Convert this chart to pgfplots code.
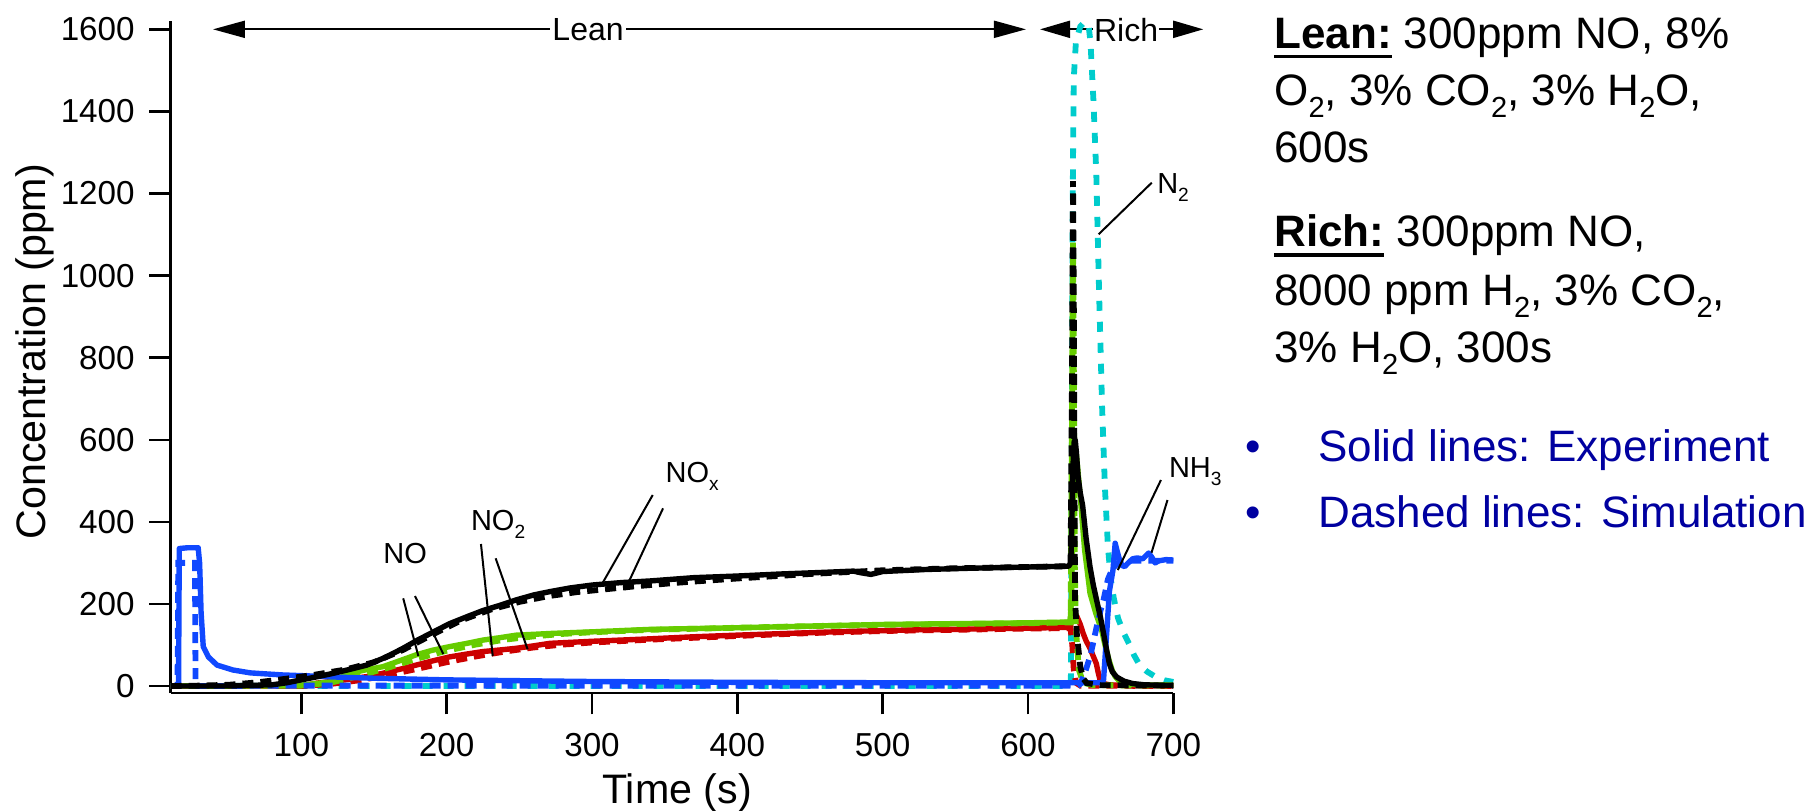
\documentclass[border=0pt]{standalone}
\usepackage{fontspec}
\setmainfont{Liberation Sans}
\usepackage{graphicx}
\usepackage{pgfplots}
\pgfplotsset{compat=1.18}
\usetikzlibrary{arrows.meta}

\definecolor{cNOx}{RGB}{0,0,0}
\definecolor{cNO}{RGB}{102,204,0}
\definecolor{cNOtwo}{RGB}{204,0,0}
\definecolor{cNH}{RGB}{16,72,255}
\definecolor{cN}{RGB}{0,204,204}
\definecolor{navy}{RGB}{0,0,160}

% chemical subscript in the current font
\newcommand{\sbs}[1]{\raisebox{-0.28em}{\scalebox{0.66}{#1}}}
% bold heading with a heavy underline
\newcommand{\ulb}[1]{\sbox0{\textbf{#1}}\rlap{\rule[-4.8pt]{\wd0}{1.7pt}}\usebox0}

\pgfplotsset{
  exp/.style={solid, line width=2.7pt, line join=round},
  sim/.style={line width=2.9pt, dash pattern=on 5.5pt off 3.5pt},
}

\begin{document}
\begin{tikzpicture}
\useasboundingbox (-85.35pt,-58.5pt) rectangle (824.65pt,346.5pt);
\begin{axis}[
  at={(0,0)}, anchor=south west,
  scale only axis, width=501.3pt, height=336.15pt,
  xmin=10.1, xmax=700, ymin=-17, ymax=1621,
  axis x line*=bottom, axis y line*=left,
  axis line style={line width=1.2pt},
  every tick/.style={black, line width=1.2pt},
  tick align=outside, major tick length=10.7pt,
  xtick={100,200,...,700}, ytick={0,200,...,1600},
  /pgf/number format/assume math mode=true,
  /pgf/number format/1000 sep={},
  tick label style={font=\fontsize{16.6pt}{20pt}\selectfont},
  xticklabel style={yshift=-5.8pt},
  yticklabel style={xshift=-3.8pt},
  xlabel={Time (s)}, ylabel={Concentration (ppm)},
  label style={font=\fontsize{20.6pt}{25pt}\selectfont},
  xlabel style={at={(axis description cs:0.505,-0.1636)}, anchor=base},
  ylabel style={at={(axis description cs:-0.1245,0.5077)}, anchor=base},
  clip=false,
]

% phase arrows
\draw[line width=1pt, {Triangle[length=16pt,width=8.5pt]}-{Triangle[length=16pt,width=8.5pt]}]
  (axis cs:39.2,1600) -- (axis cs:598.6,1600);
\node[fill=white, inner sep=1pt, font=\fontsize{16pt}{19pt}\selectfont] at (axis cs:297.3,1600) {Lean};
\draw[line width=1pt, -{Triangle[length=15pt,width=8.5pt]}] (axis cs:644.9,1600) -- (axis cs:608.3,1600);
\draw[line width=1pt, -{Triangle[length=15pt,width=8.5pt]}] (axis cs:690.2,1600) -- (axis cs:720.6,1600);
\node[inner sep=0pt, font=\fontsize{16pt}{19pt}\selectfont] at (axis cs:667.5,1598) {Rich};

% N2 (simulation)
\addplot[sim, cN, dash pattern=on 5pt off 5.5pt] coordinates {
(10,0) (629.5,0) (630,400) (630.8,1200) (631.5,1480) (633,1570) (636,1607) (639,1618)
(641.6,1612) (643,1570) (645,1430) (647,1250) (649,950) (651,680) (653,480) (655,340)
(657,260) (659,215) (662,165) (666,128) (670,100) (673,75) (677,50) (682,35) (688,22)
(694,14) (700,10)};

% NO2
\addplot[sim, cNOtwo] coordinates {
(10,0) (100,0) (120,5) (140,14) (160,27) (180,42) (200,58) (220,72) (240,84) (260,94)
(280,101) (300,106) (340,113) (400,122) (450,129) (500,134) (550,137) (600,140)
(629.3,141) (630.5,100) (631.5,40) (633,8) (636,1) (700,0)};
\addplot[exp, cNOtwo] coordinates {
(10,0) (100,0) (110.5,7) (130,15) (145,23) (156,31) (168,41) (179,51) (190,61) (202,71)
(214,78) (225,84) (237,88) (248,92) (260,98) (271,104) (300,109) (340,115) (370,120)
(400,124) (425,127) (450,130) (475,133) (500,135) (525,137) (550,138) (575,140)
(600,141) (629,143) (630,160) (631.5,178) (633.6,170)
(636,150) (638,128) (640,110) (642.7,92) (645,72) (647,55) (648.5,30) (649.6,15)
(652,6) (656,3) (670,1) (700,1)};

% NO
\addplot[sim, cNO] coordinates {
(10,0) (100,1) (120,8) (140,25) (160,45) (180,67) (200,86) (220,101) (240,113) (260,121)
(280,127) (300,131) (340,137) (400,142) (450,146) (500,149) (550,151) (600,153)
(629.3,155) (630.2,600) (631,1080) (631.6,750) (632.2,300) (633,140) (635,40) (638,8)
(645,2) (700,1)};
\addplot[exp, cNO] coordinates {
(10,0) (100,2) (120,10) (133.5,31) (145,40) (156,47) (168,62) (179,76) (190,87) (202,96)
(214,104) (225,112) (237,118) (248,124) (260,126) (271,128) (300,132) (340,138)
(370,140) (400,142) (425,144) (450,146) (475,148) (500,150) (525,151) (550,152)
(575,153) (600,154) (629,156) (630,220) (631,420)
(632,560) (633,575) (634.5,520) (636,460) (639,331) (642.7,226) (646.7,177)
(650.7,136) (653,100) (655.8,63) (658,38) (660,23) (663,12) (666.5,7) (675,3) (700,2)};

% NH3
\addplot[sim, cNH] coordinates {
(10,0) (14.8,0) (15.3,300) (26.8,300) (27.2,0) (100,1) (629,1) (634,0) (636,5) (639,30)
(643,75) (647,140) (650,185) (652,210) (655,260) (658,285) (662,300) (670,305) (700,305)};
\addplot[exp, cNH] coordinates {
(15.5,5) (16,335) (22,337) (29,337) (30,300) (31,180) (32.5,96) (36,71) (42,51) (53,39)
(65,32) (87,27) (110,24) (130,21) (150,19) (200,15) (250,13) (300,11) (400,9) (500,8)
(600,8) (651,8) (652,15) (654,120) (656,230) (658.5,283) (660,348) (662,320) (664,295)
(666.5,291) (669,300) (672,310) (675,312) (679,310) (683,324) (685,315) (687.5,300)
(690,305) (695,308) (700,307)};

% NOx
\addplot[exp, cNOx] coordinates {
(10,0) (50,0) (80,3) (90,8) (100,15) (110,22) (122,31) (135,42) (145,51) (158,70)
(170,92) (180,112) (191,132) (202,152) (214,169) (225,184) (237,197) (248,210)
(260,222) (271,230) (285,239) (300,246) (320,252) (340,256) (370,264) (400,268)
(430,273) (460,277) (480,280) (485,276) (492,272) (500,279) (530,284) (560,287)
(600,290) (628,292) (629.5,300) (630.3,420) (631,540) (631.8,595) (632.5,600)
(633.3,570) (634.5,510) (636,470) (637.6,440) (640,360) (642.7,290) (645,245)
(647.5,205) (650,165) (652,128) (654,90) (656,55) (658,35) (661,22) (666,12) (672,6)
(680,3) (690,2) (700,2)};
\addplot[sim, cNOx] coordinates {
(10,0) (30,1) (50,3) (70,9) (90,18) (110,28) (130,40) (150,58) (170,88) (190,125)
(210,160) (230,186) (250,205) (270,219) (290,229) (310,236) (330,243) (360,252)
(400,262) (450,273) (500,282) (550,287) (600,290) (629.3,292) (630.2,700) (631,1230)
(631.6,900) (632.1,420) (632.4,210) (633.6,128) (636,47) (638,18) (640.5,7) (650,2)
(700,1)};

% species labels and leader lines
\begin{scope}[line width=1pt]
\draw (axis cs:170.1,213.7) -- (axis cs:180.5,73.1);
\draw (axis cs:178.2,219.3) -- (axis cs:197.7,78);
\draw (axis cs:223.6,346) -- (axis cs:231.7,73.1);
\draw (axis cs:233.7,311.2) -- (axis cs:255.7,89.4);
\draw (axis cs:341.8,465.4) -- (axis cs:307.4,251.7);
\draw (axis cs:348.9,433) -- (axis cs:322.7,234);
\draw (axis cs:691.5,502) -- (axis cs:661.8,282.6);
\draw (axis cs:696,453.2) -- (axis cs:685,324.8);
\draw (axis cs:685.2,1226.4) -- (axis cs:648.6,1100.6);
\end{scope}
\begin{scope}[every node/.style={inner sep=0pt, anchor=base west, font=\fontsize{14.5pt}{17pt}\selectfont}]
\node at (axis cs:156.2,299) {NO};
\node at (axis cs:216.5,378.4) {NO\sbs{2}};
\node at (axis cs:350.4,496) {NO\sbs{x}};
\node at (axis cs:696.8,508.5) {NH\sbs{3}};
\node at (axis cs:688.7,1201) {N\sbs{2}};
\end{scope}
\end{axis}

% feed conditions
\begin{scope}[every node/.style={inner sep=0pt, anchor=base west, font=\fontsize{22pt}{28pt}\selectfont}]
\node at (551.65pt,322.25pt) {\ulb{Lean:} 300ppm NO, 8\%};
\node at (551.65pt,293.75pt) {O\sbs{2}, 3\% CO\sbs{2}, 3\% H\sbs{2}O,};
\node at (551.65pt,265.25pt) {600s};
\node at (551.65pt,223pt) {\ulb{Rich:} 300ppm NO,};
\node at (551.65pt,193.75pt) {8000 ppm H\sbs{2}, 3\% CO\sbs{2},};
\node at (551.65pt,165.5pt) {3\% H\sbs{2}O, 300s};
\node[text=navy] at (537.15pt,115.75pt) {\textbullet};
\node[text=navy] at (573.65pt,115.75pt) {Solid lines: Experiment};
\node[text=navy] at (537.15pt,83pt) {\textbullet};
\node[text=navy] at (573.65pt,83pt) {Dashed lines: Simulation};
\end{scope}
\end{tikzpicture}
\end{document}
